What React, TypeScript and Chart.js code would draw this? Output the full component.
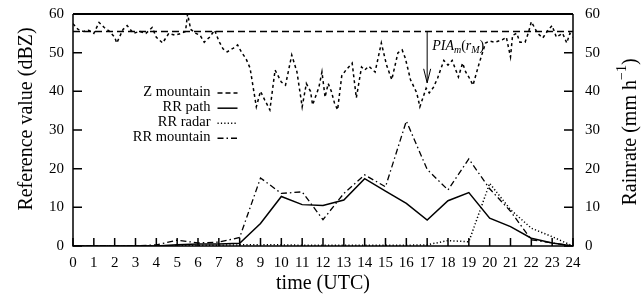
import React, { useEffect, useRef } from "react";
import { Chart, registerables } from "chart.js";

Chart.register(...registerables);

// ---- data ----
const hours = [0, 1, 2, 3, 4, 5, 6, 7, 8, 9, 10, 11, 12, 13, 14, 15, 16, 17, 18, 19, 20, 21, 22, 23, 24];
const rrPath = [0, 0, 0, 0, 0, 0.3, 0.5, 0.5, 0.7, 5.8, 12.8, 10.7, 10.5, 11.9, 17.4, 14.2, 11.0, 6.7, 11.7, 13.8, 7.2, 5.0, 2.0, 0.8, 0];
const rrRadar = [0, 0, 0, 0, 0, 0, 0.2, 0.2, 0.3, 0.3, 0.3, 0.2, 0.2, 0.2, 0.2, 0.2, 0.2, 0.3, 1.4, 1.1, 16.2, 9.4, 4.6, 2.4, 0];
const rrMountain = [0, 0, 0, 0, 0.3, 1.5, 0.8, 1.0, 2.2, 17.6, 13.6, 14.0, 6.8, 13.6, 18.4, 15.3, 32.3, 19.8, 14.5, 22.5, 14.8, 9.0, 1.6, 0.8, 0];

const zTimes = [0, 0.25, 0.5, 0.75, 1.0, 1.25, 1.5, 1.75, 2.0, 2.1, 2.4, 2.6, 2.9, 3.2, 3.5, 3.8, 4.0, 4.3, 4.6, 4.9, 5.2, 5.4, 5.5, 5.65, 5.9, 6.1, 6.3, 6.55, 6.8, 7.0, 7.2, 7.4, 7.7, 7.9, 8.1, 8.3, 8.5, 8.8, 9.0, 9.2, 9.45, 9.7, 10.0, 10.2, 10.5, 10.75, 10.9, 11.0, 11.2, 11.4, 11.5, 11.8, 11.95, 12.1, 12.25, 12.4, 12.55, 12.7, 12.9, 13.1, 13.4, 13.6, 13.85, 14.0, 14.2, 14.5, 14.8, 15.05, 15.3, 15.6, 15.8, 15.95, 16.2, 16.5, 16.65, 16.95, 17.1, 17.3, 17.5, 17.8, 18.0, 18.2, 18.5, 18.7, 18.85, 19.0, 19.2, 19.5, 19.8, 20.0, 20.25, 20.6, 20.8, 21.0, 21.1, 21.3, 21.45, 21.7, 21.85, 22.0, 22.3, 22.55, 22.8, 23.0, 23.2, 23.5, 23.7, 23.85, 24.0];
const zValues = [57.5, 56, 55.5, 55.8, 55, 57.8, 56.5, 55.5, 54, 52.5, 56, 57, 55, 55.5, 55, 56.5, 54, 52.5, 55, 54.5, 55, 55.5, 60, 56, 55, 54.5, 52.7, 54, 55.8, 53, 51, 50.2, 51.2, 52, 50, 48.5, 46, 36, 40, 37.8, 35.2, 45.5, 42.4, 41.6, 49.4, 45, 39.6, 36, 42, 40, 36.5, 41, 45, 38.5, 42, 40, 37, 35.2, 44, 45.5, 47.3, 38.3, 46.3, 45.5, 46.5, 45, 52.5, 46.8, 43, 50, 50.7, 48.6, 43, 39.6, 36, 40.8, 39.6, 41, 43.4, 48, 46.8, 48, 43.7, 47.3, 45, 43.7, 41.6, 47.3, 52.5, 53, 52.7, 53.3, 54, 48.9, 54.5, 55, 52.7, 52.7, 55, 58, 55, 53.8, 55.8, 57, 54, 55, 52.5, 55, 54];

const refLevel = 55.5;
const arrowTime = 17;
const arrowTop = 55.5;
const arrowTip = 42.2;

const xTicks = hours;
const yTicks = [0, 10, 20, 30, 40, 50, 60];

const legendItems = [
  { label: "Z mountain", dash: [5, 3] },
  { label: "RR path", dash: [] as number[] },
  { label: "RR radar", dash: [1.2, 2.2] },
  { label: "RR mountain", dash: [6, 3, 1.5, 3] },
];

const leftTitle = "Reference value (dBZ)";
const rightTitleMain = "Rainrate (mm h";
const rightTitleSup = "\u22121";
const rightTitleEnd = ")";

const SERIF = "'Liberation Serif', 'DejaVu Serif', serif";

const decorPlugin = {
  id: "decor",
  afterDatasetsDraw(chart: any) {
    const { ctx, chartArea } = chart;
    const xs = chart.scales.x;
    const ys = chart.scales.y;
    const { left, right, top, bottom } = chartArea;
    ctx.save();
    ctx.strokeStyle = "#000";
    ctx.setLineDash([]);
    // frame
    ctx.lineWidth = 1.5;
    ctx.beginPath();
    ctx.moveTo(left, top);
    ctx.lineTo(left, bottom);
    ctx.lineTo(right, bottom);
    ctx.lineTo(right, top);
    ctx.stroke();
    ctx.lineWidth = 2;
    ctx.beginPath();
    ctx.moveTo(left, top);
    ctx.lineTo(right, top);
    ctx.stroke();
    // inward ticks
    ctx.lineWidth = 1.5;
    ctx.beginPath();
    xTicks.forEach((t) => {
      const px = xs.getPixelForValue(t);
      ctx.moveTo(px, bottom);
      ctx.lineTo(px, bottom - 8);
    });
    yTicks.forEach((v) => {
      const py = ys.getPixelForValue(v);
      ctx.moveTo(left, py);
      ctx.lineTo(left + 9, py);
      ctx.moveTo(right, py);
      ctx.lineTo(right - 9, py);
    });
    ctx.stroke();

    // legend
    ctx.font = `14.5px ${SERIF}`;
    ctx.fillStyle = "#000";
    ctx.textAlign = "right";
    ctx.textBaseline = "middle";
    const lx = xs.getPixelForValue(6.6);
    legendItems.forEach((it, i) => {
      const ly = ys.getPixelForValue(39.8 - i * 3.9);
      ctx.fillText(it.label, lx, ly);
      ctx.setLineDash(it.dash);
      ctx.lineWidth = 1.5;
      ctx.beginPath();
      ctx.moveTo(lx + 7, ly + 1);
      ctx.lineTo(lx + 27, ly + 1);
      ctx.stroke();
    });
    ctx.setLineDash([]);

    // arrow
    const ax = xs.getPixelForValue(arrowTime);
    const ay0 = ys.getPixelForValue(arrowTop);
    const ay1 = ys.getPixelForValue(arrowTip);
    ctx.lineWidth = 1;
    ctx.beginPath();
    ctx.moveTo(ax, ay0);
    ctx.lineTo(ax, ay1);
    ctx.moveTo(ax - 3.5, ay1 - 14);
    ctx.lineTo(ax, ay1);
    ctx.lineTo(ax + 3.5, ay1 - 14);
    ctx.stroke();

    // PIA label
    ctx.textAlign = "left";
    ctx.textBaseline = "alphabetic";
    let tx = ax + 5;
    const ty = ys.getPixelForValue(arrowTop) + 19;
    const big = `italic 14px ${SERIF}`;
    const small = `italic 10px ${SERIF}`;
    const parts = [
      { t: "PIA", f: big, dy: 0 },
      { t: "m", f: small, dy: 3 },
      { t: "(", f: `14px ${SERIF}`, dy: 0 },
      { t: "r", f: big, dy: 0 },
      { t: "M", f: small, dy: 3 },
      { t: ")", f: `14px ${SERIF}`, dy: 0 },
    ];
    parts.forEach((p) => {
      ctx.font = p.f;
      ctx.fillText(p.t, tx, ty + p.dy);
      tx += ctx.measureText(p.t).width;
    });

    const mainF = `20px ${SERIF}`;
    const supF = `14px ${SERIF}`;

    // left axis title
    ctx.save();
    ctx.translate(32, 119);
    ctx.rotate(-Math.PI / 2);
    ctx.font = mainF;
    ctx.textAlign = "center";
    ctx.fillText(leftTitle, 0, 0);
    ctx.restore();

    // right axis title (reads bottom to top)
    ctx.translate(636, 132);
    ctx.rotate(-Math.PI / 2);
    ctx.textAlign = "left";
    ctx.font = mainF;
    const w1 = ctx.measureText(rightTitleMain).width;
    const w3 = ctx.measureText(rightTitleEnd).width;
    ctx.font = supF;
    const w2 = ctx.measureText(rightTitleSup).width;
    let sx = -(w1 + w2 + w3) / 2;
    ctx.font = mainF;
    ctx.fillText(rightTitleMain, sx, 0);
    sx += w1;
    ctx.font = supF;
    ctx.fillText(rightTitleSup, sx, -10);
    sx += w2;
    ctx.font = mainF;
    ctx.fillText(rightTitleEnd, sx, 0);
    ctx.restore();
  },
};

export default function App() {
  const ref = useRef<HTMLCanvasElement>(null);
  useEffect(() => {
    if (!ref.current) return;
    const toXY = (xsArr: number[], ysArr: number[]) => xsArr.map((x, i) => ({ x, y: ysArr[i] }));
    const tickFont = { family: SERIF, size: 15 };
    const titleFont = { family: SERIF, size: 20 };
    const fitV = (w: number) => (s: any) => {
      s.width = w;
      s.paddingTop = 0;
      s.paddingBottom = 0;
    };
    const chart = new Chart(ref.current, {
      type: "line",
      data: {
        datasets: [
          {
            label: "ref",
            data: [{ x: 0, y: refLevel }, { x: 24, y: refLevel }],
            borderColor: "#000",
            borderWidth: 1.5,
            borderDash: [7, 4],
            pointRadius: 0,
            yAxisID: "y",
          },
          {
            label: "Z mountain",
            data: toXY(zTimes, zValues),
            borderColor: "#000",
            borderWidth: 1.5,
            borderDash: [3, 3],
            pointRadius: 0,
            yAxisID: "y",
          },
          {
            label: "RR path",
            data: toXY(hours, rrPath),
            borderColor: "#000",
            borderWidth: 1.5,
            pointRadius: 0,
            yAxisID: "y2",
          },
          {
            label: "RR radar",
            data: toXY(hours, rrRadar),
            borderColor: "#000",
            borderWidth: 1.5,
            borderDash: [1.2, 2.2],
            pointRadius: 0,
            yAxisID: "y2",
          },
          {
            label: "RR mountain",
            data: toXY(hours, rrMountain),
            borderColor: "#000",
            borderWidth: 1.3,
            borderDash: [6, 3, 1.5, 3],
            pointRadius: 0,
            yAxisID: "y2",
          },
        ],
      },
      options: {
        responsive: false,
        animation: false,
        devicePixelRatio: 1,
        layout: { padding: { top: 14, left: 0, right: 0, bottom: 0 } },
        plugins: { legend: { display: false }, tooltip: { enabled: false } },
        elements: { line: { tension: 0 } },
        scales: {
          x: {
            type: "linear",
            min: 0,
            max: 24,
            ticks: { stepSize: 1, font: tickFont, color: "#000", padding: 8, maxRotation: 0, autoSkip: false },
            grid: { display: false, drawTicks: false, tickLength: 0 },
            border: { display: false },
            title: { display: true, text: "time (UTC)", font: titleFont, color: "#000", padding: { top: 0, bottom: 0 } },
            afterFit: (s: any) => {
              s.height = 50;
              s.paddingLeft = 0;
              s.paddingRight = 0;
            },
          },
          y: {
            type: "linear",
            position: "left",
            min: 0,
            max: 60,
            ticks: { stepSize: 10, font: tickFont, color: "#000", padding: 9 },
            grid: { display: false, drawTicks: false, tickLength: 0 },
            border: { display: false },
            title: { display: false },
            afterFit: fitV(73),
          },
          y2: {
            type: "linear",
            position: "right",
            min: 0,
            max: 60,
            ticks: { stepSize: 10, font: tickFont, color: "#000", padding: 12 },
            grid: { display: false, drawTicks: false, tickLength: 0 },
            border: { display: false },
            title: { display: false },
            afterFit: fitV(70),
          },
        },
      },
      plugins: [decorPlugin],
    });
    return () => chart.destroy();
  }, []);
  return (
    <div style={{ position: "absolute", left: 0, top: 0, width: 643, height: 296, background: "#fff" }}>
      <canvas ref={ref} width={643} height={296} />
    </div>
  );
}
